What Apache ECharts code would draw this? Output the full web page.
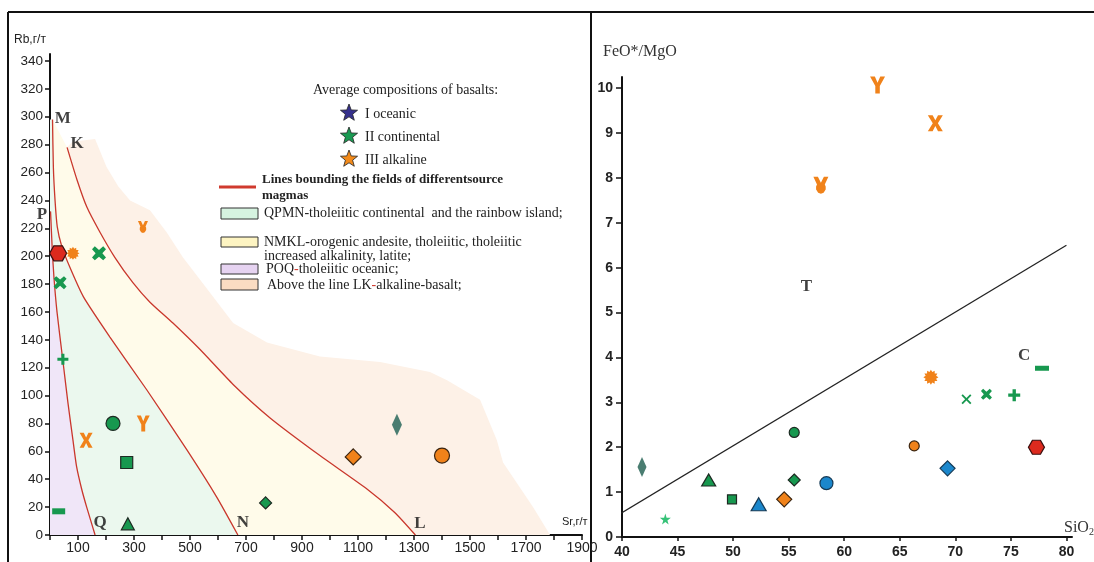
<!DOCTYPE html>
<html><head><meta charset="utf-8">
<script src="https://cdn.jsdelivr.net/npm/echarts@6/dist/echarts.min.js"></script>
<style>html,body{margin:0;padding:0;background:#fff}#c{width:1094px;height:562px}</style>
</head><body><div id="c"></div>
<script>
// ================= DATA =================
// axis ticks
const srTicks = [0,100,200,300,400,500,600,700,800,900,1000,1100,1200,1300,1400,1500,1600,1700,1800,1900];
const srLabels = [100,300,500,700,900,1100,1300,1500,1700,1900];
const rbTicks = [0,20,40,60,80,100,120,140,160,180,200,220,240,260,280,300,320,340];
const sio2Ticks = [40,45,50,55,60,65,70,75,80];
const ratioTicks = [0,1,2,3,4,5,6,7,8,9,10];

// samples (same marker = same sample on both diagrams)
const sampleIds = ['redHexagon','orangeSun','greenCrossBold','greenCross','orangeYDot','greenPlus','greenCircle','orangeY','orangeX','greenSquare','greenDash','greenTriangle','greenDiamond','tealDiamond','orangeDiamond','orangeCircle','greenStar','blueTriangle','blueCircle','blueDiamond'];
// Rb-Sr diagram (left)
const srValues = [29, 82, 175, 36, 332, 46, 225, 333, 129, 274, 31, 278, 770, 1239, 1083, 1400, null, null, null, null];
const rbValues = [202, 202, 202, 181, 221, 126, 80, 80, 68, 52, 17, 8, 23, 79, 56, 57, null, null, null, null];
// FeO*/MgO - SiO2 diagram (right)
const sio2Values = [77.3, 67.8, 72.8, 71.0, 57.9, 75.3, 55.5, 63.0, 68.2, 49.9, 77.8, 47.8, 55.5, 41.8, 54.6, 66.3, 43.9, 52.3, 58.4, 69.3];
const feoMgoValues = [2.0, 3.56, 3.18, 3.07, 7.84, 3.16, 2.33, 10.07, 9.22, 0.84, 3.76, 1.27, 1.27, 1.56, 0.84, 2.03, 0.40, 0.73, 1.20, 1.53];

// field boundary lines on Rb-Sr diagram [Sr, Rb]
const lineMN = [[9,298],[12,264],[18,240],[26,221],[42,207],[71,192],[119,171],[214,142],[346,104],[489,61],[596,27],[671,0]];
const linePQ = [[2,232],[8,205],[14,185],[25,160],[46,125],[64,95],[82,68],[95,49],[113,33],[131,20],[161,0]];
const lineKL = [[61,278],[96,255],[132,235],[179,217],[232,199],[296,181],[357,167],[439,152],[536,133],[654,108],[786,84],[964,57],[1132,33],[1232,16],[1305,0]];
const alkalineOutline = [[61,278],[80,282],[161,284],[202,264],[244,250],[286,240],[357,233],[417,217],[475,199],[536,183],[654,152],[775,138],[964,128],[1179,124],[1357,117],[1418,111],[1536,97],[1596,68],[1618,52],[1725,20],[1786,0]];
const fieldLetters = ['M','K','P','Q','N','L'];
const fieldLetterPos = [[46,299],[97,281],[-29,230],[179,9],[689,9],[1321,8]];

// T / C divide on FeO*/MgO - SiO2 diagram [SiO2, FeO*/MgO]
const lineTC = [[39.3,0.44],[80,6.5]];
const tcLetters = ['T','C'];
const tcLetterPos = [[56.6,5.57],[76.2,4.05]];

// ================= STYLES =================
const burst = (n, ro, ri) => {
  let s = 'path://';
  for (let i = 0; i < 2*n; i++) {
    const a = i*Math.PI/n - Math.PI/2, r = i%2 ? ri : ro;
    s += (i ? 'L' : 'M') + (10 + r*Math.cos(a)).toFixed(2) + ',' + (10 + r*Math.sin(a)).toFixed(2) + ' ';
  }
  return s + 'Z';
};
const starPoints = (cx, cy, ro, ri) => {
  const pts = [];
  for (let i = 0; i < 10; i++) {
    const a = i*Math.PI/5 - Math.PI/2, r = i%2 ? ri : ro;
    pts.push([cx + r*Math.cos(a), cy + r*Math.sin(a)]);
  }
  return pts;
};
const SYM = {
  hex: 'path://M3,0 L9,0 L12,5.2 L9,10.4 L3,10.4 L0,5.2 Z',
  Y: 'path://M0,0 L3.2,0 L5,3.6 L6.8,0 L10,0 L6.5,5.6 L6.5,10 L3.5,10 L3.5,5.6 Z',
  Ydot: 'path://M0,0 L3,0 L5,3.6 L7,0 L10,0 L7.6,4.6 L8.2,5.8 L8.2,7.6 L6.8,9.4 L5,10 L3.2,9.4 L1.8,7.6 L1.8,5.8 L2.4,4.6 Z',
  X: 'path://M0,0 L3.2,0 L5,3.2 L6.8,0 L10,0 L6.7,5 L10,10 L6.8,10 L5,6.8 L3.2,10 L0,10 L3.3,5 Z',
  plus: 'path://M3.6,0 L6.4,0 L6.4,3.6 L10,3.6 L10,6.4 L6.4,6.4 L6.4,10 L3.6,10 L3.6,6.4 L0,6.4 L0,3.6 L3.6,3.6 Z',
  crossBold: 'path://M0,2 L2,0 L5,2.6 L8,0 L10,2 L7.4,5 L10,8 L8,10 L5,7.4 L2,10 L0,8 L2.6,5 Z',
  cross: 'path://M0,1.3 L1.3,0 L5,3.7 L8.7,0 L10,1.3 L6.3,5 L10,8.7 L8.7,10 L5,6.3 L1.3,10 L0,8.7 L3.7,5 Z',
  star: 'path://M50,0 L61,35 L98,35 L68,57 L79,91 L50,70 L21,91 L32,57 L2,35 L39,35 Z',
  sun: burst(12, 10, 7.2)
};
const GREEN = '#17984f', ORANGE = '#f0821a', BLUE = '#1b87cc', DARK = '#1d2a22';
const markerStyle = {
  redHexagon:    {symbol: SYM.hex, color: '#dc2a1e', border: '#3a1010', L: [17,15], R: [16,14]},
  orangeSun:     {symbol: SYM.sun, color: ORANGE, L: 13, R: 15},
  greenCrossBold:{symbol: SYM.crossBold, color: GREEN, L: 14, R: 11},
  greenCross:    {symbol: SYM.crossBold, color: GREEN, L: 13, R: 10, rSym: SYM.cross},
  orangeYDot:    {symbol: SYM.Ydot, color: ORANGE, L: [10,12], R: [15,17]},
  greenPlus:     {symbol: SYM.plus, color: GREEN, L: 11, R: 12},
  greenCircle:   {symbol: 'circle', color: GREEN, border: DARK, L: 14, R: 10},
  orangeY:       {symbol: SYM.Y, color: ORANGE, L: [13,16], R: [15,17]},
  orangeX:       {symbol: SYM.X, color: ORANGE, L: [13,15], R: [15,16]},
  greenSquare:   {symbol: 'rect', color: GREEN, border: DARK, L: 12, R: 9},
  greenDash:     {symbol: 'rect', color: GREEN, L: [13,6], R: [14,5]},
  greenTriangle: {symbol: 'triangle', color: GREEN, border: DARK, L: [13,12], R: [14,12]},
  greenDiamond:  {symbol: 'diamond', color: GREEN, border: DARK, L: 12, R: 12},
  tealDiamond:   {symbol: 'diamond', color: '#4a7d71', L: [10,22], R: [9,20]},
  orangeDiamond: {symbol: 'diamond', color: ORANGE, border: '#3a2410', L: 16, R: 15},
  orangeCircle:  {symbol: 'circle', color: ORANGE, border: '#3a2410', L: 15, R: 10},
  greenStar:     {symbol: SYM.star, color: '#35c277', L: 10, R: 11},
  blueTriangle:  {symbol: 'triangle', color: BLUE, border: '#163a55', L: 14, R: [15,13]},
  blueCircle:    {symbol: 'circle', color: BLUE, border: '#163a55', L: 13, R: 13},
  blueDiamond:   {symbol: 'diamond', color: BLUE, border: '#163a55', L: 15, R: 15}
};
function markerData(xs, ys, side) {
  const out = [];
  sampleIds.forEach((id, i) => {
    if (xs[i] == null || ys[i] == null) return;
    const st = markerStyle[id];
    out.push({
      name: id, value: [xs[i], ys[i]],
      symbol: side === 'R' && st.rSym ? st.rSym : st.symbol,
      symbolSize: st[side],
      itemStyle: {color: st.color, opacity: 1, borderColor: st.border || st.color, borderWidth: st.border ? 1.2 : 0}
    });
  });
  return out;
}

// field polygons built from boundary lines
const regionFills = ['#fdf1e7', '#fffbea', '#ebf8ee', '#f0e6f8'];
const regionPolys = [
  alkalineOutline.concat([[lineKL[lineKL.length-1][0], 0]]).concat(lineKL.slice().reverse()),
  lineMN.concat(lineKL.slice().reverse()),
  [[0, linePQ[0][1]], [0, lineMN[0][1]]].concat(lineMN).concat(linePQ.slice().reverse()),
  [[0, 0], [0, linePQ[0][1]]].concat(linePQ)
];

const SANS = "'Liberation Sans', Arial, sans-serif";
const SERIF = "'Liberation Serif', 'Times New Roman', serif";

const chart = echarts.init(document.getElementById('c'), null, {renderer: 'canvas'});
const redLine = (data) => ({
  type: 'line', xAxisIndex: 0, yAxisIndex: 0, data: data, smooth: 0.2, symbol: 'none', silent: true,
  lineStyle: {color: '#c9372c', width: 1.3}, z: 3
});
const letterSeries = (names, pos, axisIdx) => ({
  type: 'scatter', xAxisIndex: axisIdx, yAxisIndex: axisIdx, clip: false, symbolSize: 0, silent: true, z: 6,
  data: names.map((n, i) => ({name: n, value: pos[i]})),
  label: {show: true, position: 'inside', formatter: '{b}', fontFamily: SERIF, fontWeight: 'bold', fontSize: 17, color: '#111'}
});
const txt = (x, y, text, font, extra) => Object.assign({type: 'text', x: x, y: y, silent: true,
  style: Object.assign({text: text, font: font, fill: '#222', textVerticalAlign: 'middle', verticalAlign: 'middle'}, extra || {})});
const legendStar = (cx, cy, fill) => ({type: 'polygon', silent: true, shape: {points: starPoints(cx, cy, 9, 3.8)},
  style: {fill: fill, stroke: '#222', lineWidth: 0.8}});
const F13 = '14px ' + SERIF;
const plain = v => String(v);

const option = {
  animation: false,
  backgroundColor: '#fff',
  grid: [
    {left: 50, top: 54, width: 532, height: 481},
    {left: 622, top: 77, width: 450, height: 460}
  ],
  xAxis: [
    {gridIndex: 0, type: 'value', min: 0, max: 1900, splitLine: {show: false},
     axisLine: {lineStyle: {color: '#111', width: 2}},
     axisTick: {customValues: srTicks, length: 5, lineStyle: {color: '#111', width: 1.5}},
     axisLabel: {customValues: srLabels, formatter: plain, color: '#222', fontFamily: SANS, fontSize: 14, margin: 6}},
    {gridIndex: 1, type: 'value', min: 40, max: 80.5, splitLine: {show: false},
     axisLine: {lineStyle: {color: '#111', width: 2}},
     axisTick: {customValues: sio2Ticks, length: 4, lineStyle: {color: '#111', width: 1.5}},
     axisLabel: {customValues: sio2Ticks, formatter: plain, color: '#222', fontFamily: SANS, fontWeight: 'bold', fontSize: 14, margin: 8}}
  ],
  yAxis: [
    {gridIndex: 0, type: 'value', min: 0, max: 345, splitLine: {show: false},
     axisLine: {show: true, lineStyle: {color: '#111', width: 2}},
     axisTick: {show: true, customValues: rbTicks, length: 5, lineStyle: {color: '#111', width: 1.5}},
     axisLabel: {customValues: rbTicks, formatter: plain, color: '#222', fontFamily: SANS, fontSize: 13.5, margin: 7}},
    {gridIndex: 1, type: 'value', min: 0, max: 10.25, splitLine: {show: false},
     axisLine: {show: true, lineStyle: {color: '#111', width: 2}},
     axisTick: {show: true, customValues: ratioTicks, length: 6, lineStyle: {color: '#111', width: 1.5}},
     axisLabel: {customValues: ratioTicks, formatter: plain, color: '#222', fontFamily: SANS, fontWeight: 'bold', fontSize: 14, margin: 9}}
  ],
  series: [
    {type: 'custom', xAxisIndex: 0, yAxisIndex: 0, silent: true, z: 1, clip: false,
     data: regionPolys.map((p, i) => [i, 0]),
     renderItem: function (params, api) {
       const poly = regionPolys[params.dataIndex];
       return {type: 'polygon', shape: {points: poly.map(p => api.coord(p))},
               style: {fill: regionFills[params.dataIndex]}};
     }},
    redLine(lineMN), redLine(linePQ), redLine(lineKL),
    letterSeries(fieldLetters, fieldLetterPos, 0),
    {type: 'scatter', xAxisIndex: 0, yAxisIndex: 0, z: 5, clip: false, data: markerData(srValues, rbValues, 'L')},
    {type: 'line', xAxisIndex: 1, yAxisIndex: 1, data: lineTC, symbol: 'none', clip: false, silent: true,
     lineStyle: {color: '#222', width: 1.3}, z: 3},
    letterSeries(tcLetters, tcLetterPos, 1),
    {type: 'scatter', xAxisIndex: 1, yAxisIndex: 1, z: 5, clip: false, data: markerData(sio2Values, feoMgoValues, 'R')}
  ],
  graphic: [
    // frame
    {type: 'line', silent: true, shape: {x1: 8, y1: 12, x2: 1094, y2: 12}, style: {stroke: '#111', lineWidth: 2}},
    {type: 'line', silent: true, shape: {x1: 8, y1: 12, x2: 8, y2: 562}, style: {stroke: '#111', lineWidth: 2}},
    {type: 'line', silent: true, shape: {x1: 591, y1: 12, x2: 591, y2: 562}, style: {stroke: '#111', lineWidth: 2}},
    // axis titles
    txt(14, 40, 'Rb,г/т', '12px ' + SANS),
    txt(562, 522, 'Sr,г/т', '11px ' + SANS),
    txt(603, 52, 'FeO*/MgO', '16px ' + SERIF, {fill: '#333'}),
    txt(1064, 528, 'SiO{s|2}', '16px ' + SERIF, {fill: '#333', rich: {s: {fontSize: 10, fontFamily: SERIF, fill: '#333', padding: [8, 0, 0, 0]}}}),
    // legend
    txt(313, 90, 'Average compositions of basalts:', F13),
    legendStar(349, 113, '#35308c'),
    legendStar(349, 136, '#1a9a52'),
    legendStar(349, 159, '#f28a1a'),
    txt(365, 114, 'I oceanic', F13),
    txt(365, 137, 'II continental', F13),
    txt(365, 160, 'III alkaline', F13),
    {type: 'line', silent: true, shape: {x1: 219, y1: 187, x2: 256, y2: 187}, style: {stroke: '#d03a2e', lineWidth: 3}},
    txt(262, 180, 'Lines bounding the fields of differentsource', 'bold 13px ' + SERIF),
    txt(262, 196, 'magmas', 'bold 13px ' + SERIF),
    {type: 'rect', silent: true, shape: {x: 221, y: 208, width: 37, height: 11}, style: {fill: '#d6f3e0', stroke: '#333', lineWidth: 1}},
    txt(264, 213, 'QPMN-tholeiitic continental  and the rainbow island;', F13),
    {type: 'rect', silent: true, shape: {x: 221, y: 237, width: 37, height: 10}, style: {fill: '#fdf4c2', stroke: '#333', lineWidth: 1}},
    txt(264, 242, 'NMKL-orogenic andesite, tholeiitic, tholeiitic', F13),
    txt(264, 256, 'increased alkalinity, latite;', F13),
    {type: 'rect', silent: true, shape: {x: 221, y: 264, width: 37, height: 10}, style: {fill: '#e6d3f1', stroke: '#333', lineWidth: 1}},
    txt(266, 269, 'POQ{r|-}tholeiitic oceanic;', F13, {rich: {r: {fill: '#d03a2e', fontFamily: SERIF, fontSize: 14}}}),
    {type: 'rect', silent: true, shape: {x: 221, y: 279, width: 37, height: 11}, style: {fill: '#fbdcc2', stroke: '#333', lineWidth: 1}},
    txt(267, 285, 'Above the line LK{r|-}alkaline-basalt;', F13, {rich: {r: {fill: '#d03a2e', fontFamily: SERIF, fontSize: 14}}})
  ]
};
chart.setOption(option);
</script>
</body></html>
